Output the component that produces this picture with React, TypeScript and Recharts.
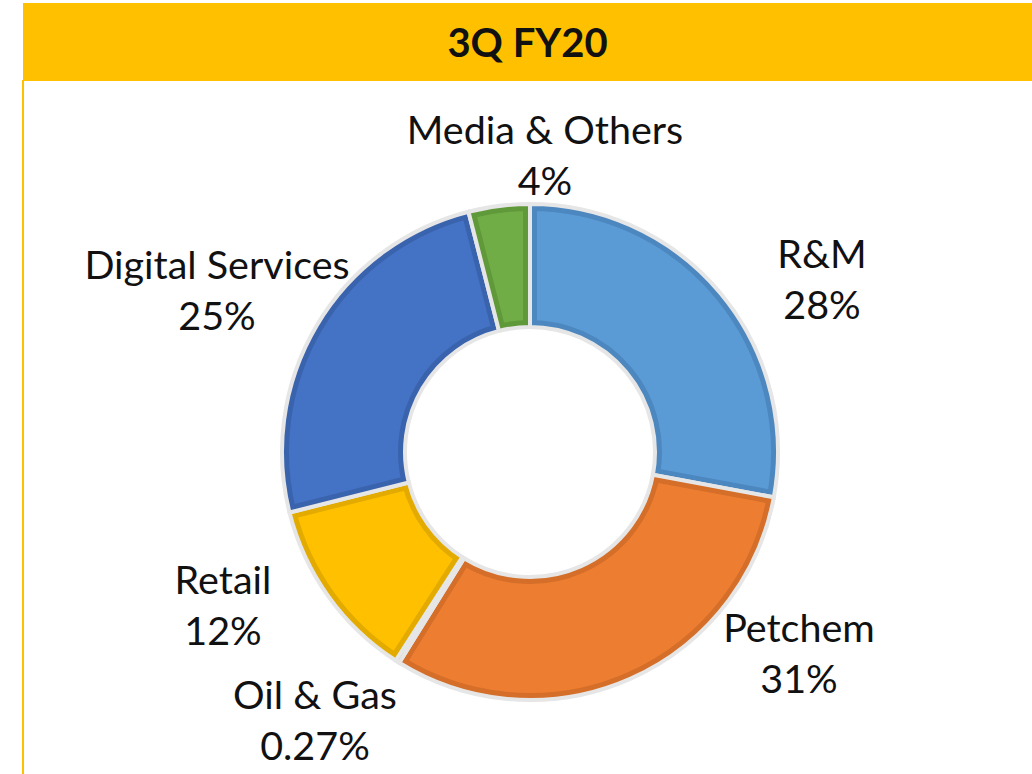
import React from 'react'
import { PieChart, Pie, Cell, Sector } from 'recharts'

const SEGMENTS = ['R&M', 'Petchem', 'Oil & Gas', 'Retail', 'Digital Services', 'Media & Others']
const SHARES = [28, 31, 0.27, 12, 25, 4]
const SHARE_LABELS = ['28%', '31%', '0.27%', '12%', '25%', '4%']

const FILLS = ['#5B9BD5', '#ED7D31', '#A5A5A5', '#FFC000', '#4472C4', '#70AD47']
const EDGES = ['#4C87BF', '#D46E28', '#939393', '#E3AB00', '#3A63AD', '#60993A']
const SEPARATOR = '#E6E6E6'

// offset of each two-line label block from the pie centre
const LABEL_OFFSETS: [number, number][] = [
  [292, -173],
  [269, 201],
  [-215, 268],
  [-307, 153],
  [-313, -162],
  [15, -297],
]

const data = SEGMENTS.map((name, i) => ({ name, value: SHARES[i], pct: SHARE_LABELS[i] }))

const FONT = 'Lato, "Open Sans", sans-serif'

const SliceShape = (props: any) => {
  const { cx, cy, innerRadius, outerRadius, startAngle, endAngle, index } = props
  const geom = { cx, cy, innerRadius, outerRadius, startAngle, endAngle }
  const clipId = `slice-clip-${index}`
  return (
    <g>
      <defs>
        <clipPath id={clipId}>
          <Sector {...geom} />
        </clipPath>
      </defs>
      <Sector
        {...geom}
        fill={FILLS[index]}
        stroke={EDGES[index]}
        strokeWidth={14}
        clipPath={`url(#${clipId})`}
      />
      <Sector {...geom} fill="none" stroke={SEPARATOR} strokeWidth={4} />
    </g>
  )
}

const renderLabel = (props: any) => {
  const { cx, cy, index } = props
  const [dx, dy] = LABEL_OFFSETS[index]
  const x = cx + dx
  const y = cy + dy
  return (
    <text
      key={`lbl-${index}`}
      x={x}
      y={y}
      textAnchor="middle"
      fontFamily={FONT}
      fontSize={39.5}
      fill="#111"
    >
      <tspan x={x} dy={-11}>{SEGMENTS[index]}</tspan>
      <tspan x={x} dy={51}>{SHARE_LABELS[index]}</tspan>
    </text>
  )
}

export default function App() {
  return (
    <div style={{ position: 'fixed', left: 0, top: 0, width: 1032, height: 774, background: '#fff', overflow: 'hidden' }}>
      <div
        style={{
          position: 'absolute',
          left: 23,
          top: 3,
          width: 1009,
          height: 78,
          background: '#FFC000',
          display: 'flex',
          alignItems: 'center',
          justifyContent: 'center',
          fontFamily: FONT,
          fontWeight: 'bold',
          fontSize: 40,
          color: '#111',
        }}
      >
        3Q FY20
      </div>
      <div style={{ position: 'absolute', left: 22, top: 80, width: 2, height: 694, background: '#FFC000' }} />
      <div style={{ position: 'absolute', left: 0, top: 0 }}>
        <PieChart width={1032} height={774} margin={{ top: 0, right: 0, bottom: 0, left: 0 }}>
          <Pie
            data={data}
            dataKey="value"
            nameKey="name"
            cx={530}
            cy={452}
            innerRadius={125}
            outerRadius={248}
            startAngle={90}
            endAngle={-270}
            stroke="none"
            shape={SliceShape}
            label={renderLabel}
            labelLine={false}
            isAnimationActive={false}
          >
            {data.map((d, i) => (
              <Cell key={`cell-${i}`} fill={FILLS[i]} />
            ))}
          </Pie>
        </PieChart>
      </div>
    </div>
  )
}
